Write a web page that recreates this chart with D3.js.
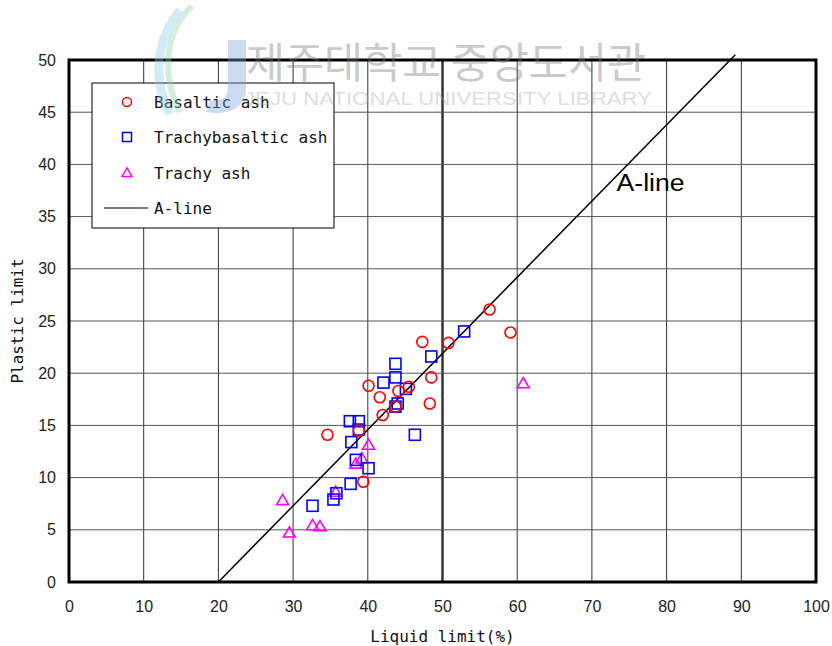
<!DOCTYPE html>
<html>
<head>
<meta charset="utf-8">
<script src="https://cdn.jsdelivr.net/npm/d3@7/dist/d3.min.js"></script>
<style>
  body { margin: 0; background: #fff; }
</style>
</head>
<body>
<div id="chart"></div>
<script>
// Data: [liquid limit, plastic limit]
var basalticAsh = [
  [34.6, 14.1], [38.8, 14.5], [39.4, 9.6], [40.1, 18.8], [41.6, 17.7],
  [42.0, 16.0], [43.7, 16.8], [44.1, 18.3], [45.5, 18.7], [47.3, 23.0],
  [48.3, 17.1], [48.5, 19.6], [50.8, 22.9], [56.3, 26.1], [59.1, 23.9]
];
var trachybasalticAsh = [
  [32.6, 7.3], [35.4, 7.9], [35.8, 8.5], [37.7, 9.4], [38.4, 11.7],
  [40.1, 10.9], [37.8, 13.4], [37.6, 15.4], [38.8, 15.4], [38.8, 14.6],
  [42.1, 19.1], [43.7, 20.9], [43.7, 19.6], [45.1, 18.5], [44.0, 17.1],
  [43.7, 16.8], [46.3, 14.1], [48.5, 21.6], [52.9, 24.0]
];
var trachyAsh = [
  [28.6, 7.8], [29.5, 4.7], [32.6, 5.4], [33.6, 5.3], [35.7, 8.6],
  [38.4, 11.3], [39.2, 11.8], [40.1, 13.1], [60.8, 19.0]
];
// A-line: PI = 0.73 (LL - 20)
var aLine = [[20, 0], [89.2, 50.5]];

var xTicks = [0, 10, 20, 30, 40, 50, 60, 70, 80, 90, 100];
var yTicks = [0, 5, 10, 15, 20, 25, 30, 35, 40, 45, 50];
var legendNames = ["Basaltic ash", "Trachybasaltic ash", "Trachy ash", "A-line"];

// Define SVG area dimensions
var svgWidth = 832;
var svgHeight = 646;

var chartMargin = { top: 60, right: 16, bottom: 64, left: 69 };
var chartWidth = svgWidth - chartMargin.left - chartMargin.right;
var chartHeight = svgHeight - chartMargin.top - chartMargin.bottom;

var svg = d3.select("#chart")
  .append("svg")
    .attr("width", svgWidth)
    .attr("height", svgHeight);

var chart = svg.append("g")
  .attr("transform", `translate(${chartMargin.left}, ${chartMargin.top})`);

var xScale = d3.scaleLinear().domain([0, 100]).range([0, chartWidth]);
var yScale = d3.scaleLinear().domain([0, 50]).range([chartHeight, 0]);

// grid lines
chart.selectAll(".vgrid")
  .data(xTicks.slice(1, -1))
  .enter()
  .append("line")
  .attr("x1", d => xScale(d)).attr("x2", d => xScale(d))
  .attr("y1", 0).attr("y2", chartHeight)
  .attr("stroke", "#333")
  .attr("stroke-width", d => d === 50 ? 2.5 : 1);

chart.selectAll(".hgrid")
  .data(yTicks.slice(1, -1))
  .enter()
  .append("line")
  .attr("x1", 0).attr("x2", chartWidth)
  .attr("y1", d => yScale(d)).attr("y2", d => yScale(d))
  .attr("stroke", "#555")
  .attr("stroke-width", 1);

// axes
var bottomAxis = d3.axisBottom(xScale).tickValues(xTicks).tickSize(0).tickPadding(19);
var leftAxis = d3.axisLeft(yScale).tickValues(yTicks).tickSize(0).tickPadding(13);

var gx = chart.append("g")
  .attr("transform", `translate(0, ${chartHeight})`)
  .call(bottomAxis);
var gy = chart.append("g").call(leftAxis);
[gx, gy].forEach(function(g) {
  g.select(".domain").remove();
  g.selectAll("text")
    .style("font-family", "'Liberation Sans', Arial, sans-serif")
    .style("font-size", "16px")
    .attr("fill", "#222");
});

// A-line
var line = d3.line().x(d => xScale(d[0])).y(d => yScale(d[1]));
chart.append("path")
  .datum(aLine)
  .attr("d", line)
  .attr("fill", "none")
  .attr("stroke", "#000")
  .attr("stroke-width", 1.5);

chart.append("text")
  .attr("x", xScale(73.3))
  .attr("y", yScale(37.5))
  .style("font-family", "'Liberation Sans', Arial, sans-serif")
  .style("font-size", "23px")
  .attr("textLength", 68)
  .attr("lengthAdjust", "spacingAndGlyphs")
  .text("A-line");

// plot frame
chart.append("rect")
  .attr("x", 0).attr("y", 0)
  .attr("width", chartWidth).attr("height", chartHeight)
  .attr("fill", "none")
  .attr("stroke", "#000")
  .attr("stroke-width", 3);

// marker shapes
function triPath(cx, cy, s) {
  var h = s * 0.85;
  return `M${cx},${cy - h * 0.6} L${cx + s / 2},${cy + h * 0.4} L${cx - s / 2},${cy + h * 0.4} Z`;
}

chart.selectAll(".tri")
  .data(trachyAsh)
  .enter()
  .append("path")
  .attr("d", d => triPath(xScale(d[0]), yScale(d[1]), 12))
  .attr("fill", "none")
  .attr("stroke", "#ff00ff")
  .attr("stroke-width", 1.6);

chart.selectAll(".sq")
  .data(trachybasalticAsh)
  .enter()
  .append("rect")
  .attr("x", d => xScale(d[0]) - 5.5)
  .attr("y", d => yScale(d[1]) - 5.5)
  .attr("width", 11).attr("height", 11)
  .attr("fill", "none")
  .attr("stroke", "#0000ff")
  .attr("stroke-width", 1.6);

chart.selectAll(".circ")
  .data(basalticAsh)
  .enter()
  .append("circle")
  .attr("cx", d => xScale(d[0]))
  .attr("cy", d => yScale(d[1]))
  .attr("r", 5.5)
  .attr("fill", "none")
  .attr("stroke", "#ff0000")
  .attr("stroke-width", 1.6);

// legend
var legend = svg.append("g");
legend.append("rect")
  .attr("x", 92).attr("y", 83)
  .attr("width", 242).attr("height", 145)
  .attr("fill", "#fff")
  .attr("stroke", "#000")
  .attr("stroke-width", 1);

var rowY = [102, 137, 173, 208];
legend.append("circle")
  .attr("cx", 127).attr("cy", rowY[0]).attr("r", 4.5)
  .attr("fill", "none").attr("stroke", "#ff0000").attr("stroke-width", 1.5);
legend.append("rect")
  .attr("x", 122.5).attr("y", rowY[1] - 4.5).attr("width", 9).attr("height", 9)
  .attr("fill", "none").attr("stroke", "#0000ff").attr("stroke-width", 1.5);
legend.append("path")
  .attr("d", triPath(127, rowY[2], 10))
  .attr("fill", "none").attr("stroke", "#ff00ff").attr("stroke-width", 1.5);
legend.append("line")
  .attr("x1", 104).attr("x2", 148)
  .attr("y1", rowY[3]).attr("y2", rowY[3])
  .attr("stroke", "#000").attr("stroke-width", 1);

legend.selectAll(".ltext")
  .data(legendNames)
  .enter()
  .append("text")
  .attr("x", 154)
  .attr("y", (d, i) => rowY[i] + 6)
  .style("font-family", "'DejaVu Sans Mono', monospace")
  .style("font-size", "16px")
  .attr("fill", "#111")
  .text(d => d);

// axis titles
svg.append("text")
  .attr("x", chartMargin.left + chartWidth / 2)
  .attr("y", 642)
  .attr("text-anchor", "middle")
  .style("font-family", "'DejaVu Sans Mono', monospace")
  .style("font-size", "16px")
  .attr("fill", "#111")
  .text("Liquid limit(%)");

svg.append("text")
  .attr("transform", `translate(23, ${chartMargin.top + chartHeight / 2}) rotate(-90)`)
  .attr("text-anchor", "middle")
  .style("font-family", "'DejaVu Sans Mono', monospace")
  .style("font-size", "16px")
  .attr("fill", "#111")
  .text("Plastic limit");

// watermark (faded library logo + name), laid over the top of the figure
var wm = svg.append("g").attr("opacity", 0.38).style("pointer-events", "none");
wm.append("path")
  .attr("d", "M192,6 C166,30 160,72 180,112")
  .attr("fill", "none").attr("stroke", "#8fd0a8").attr("stroke-width", 6);
wm.append("path")
  .attr("d", "M180,10 C156,40 152,80 170,114")
  .attr("fill", "none").attr("stroke", "#8ccbea").attr("stroke-width", 9);
wm.append("path")
  .attr("d", "M228,40 L246,40 L246,88 C246,108 228,116 206,112 L210,100 C224,102 228,96 228,86 Z")
  .attr("fill", "#7aa3dc");
wm.append("text")
  .attr("x", 246).attr("y", 78)
  .style("font-family", "'Noto Sans CJK KR'")
  .style("font-size", "42px")
  .style("fill", "#777")
  .attr("textLength", 400)
  .attr("lengthAdjust", "spacingAndGlyphs")
  .text("제주대학교 중앙도서관");
wm.append("text")
  .attr("x", 244).attr("y", 105)
  .style("font-family", "'Liberation Sans'")
  .style("font-size", "19px")
  .style("fill", "#aaa")
  .attr("textLength", 408)
  .attr("lengthAdjust", "spacingAndGlyphs")
  .text("JEJU NATIONAL UNIVERSITY  LIBRARY");
</script>
</body>
</html>
